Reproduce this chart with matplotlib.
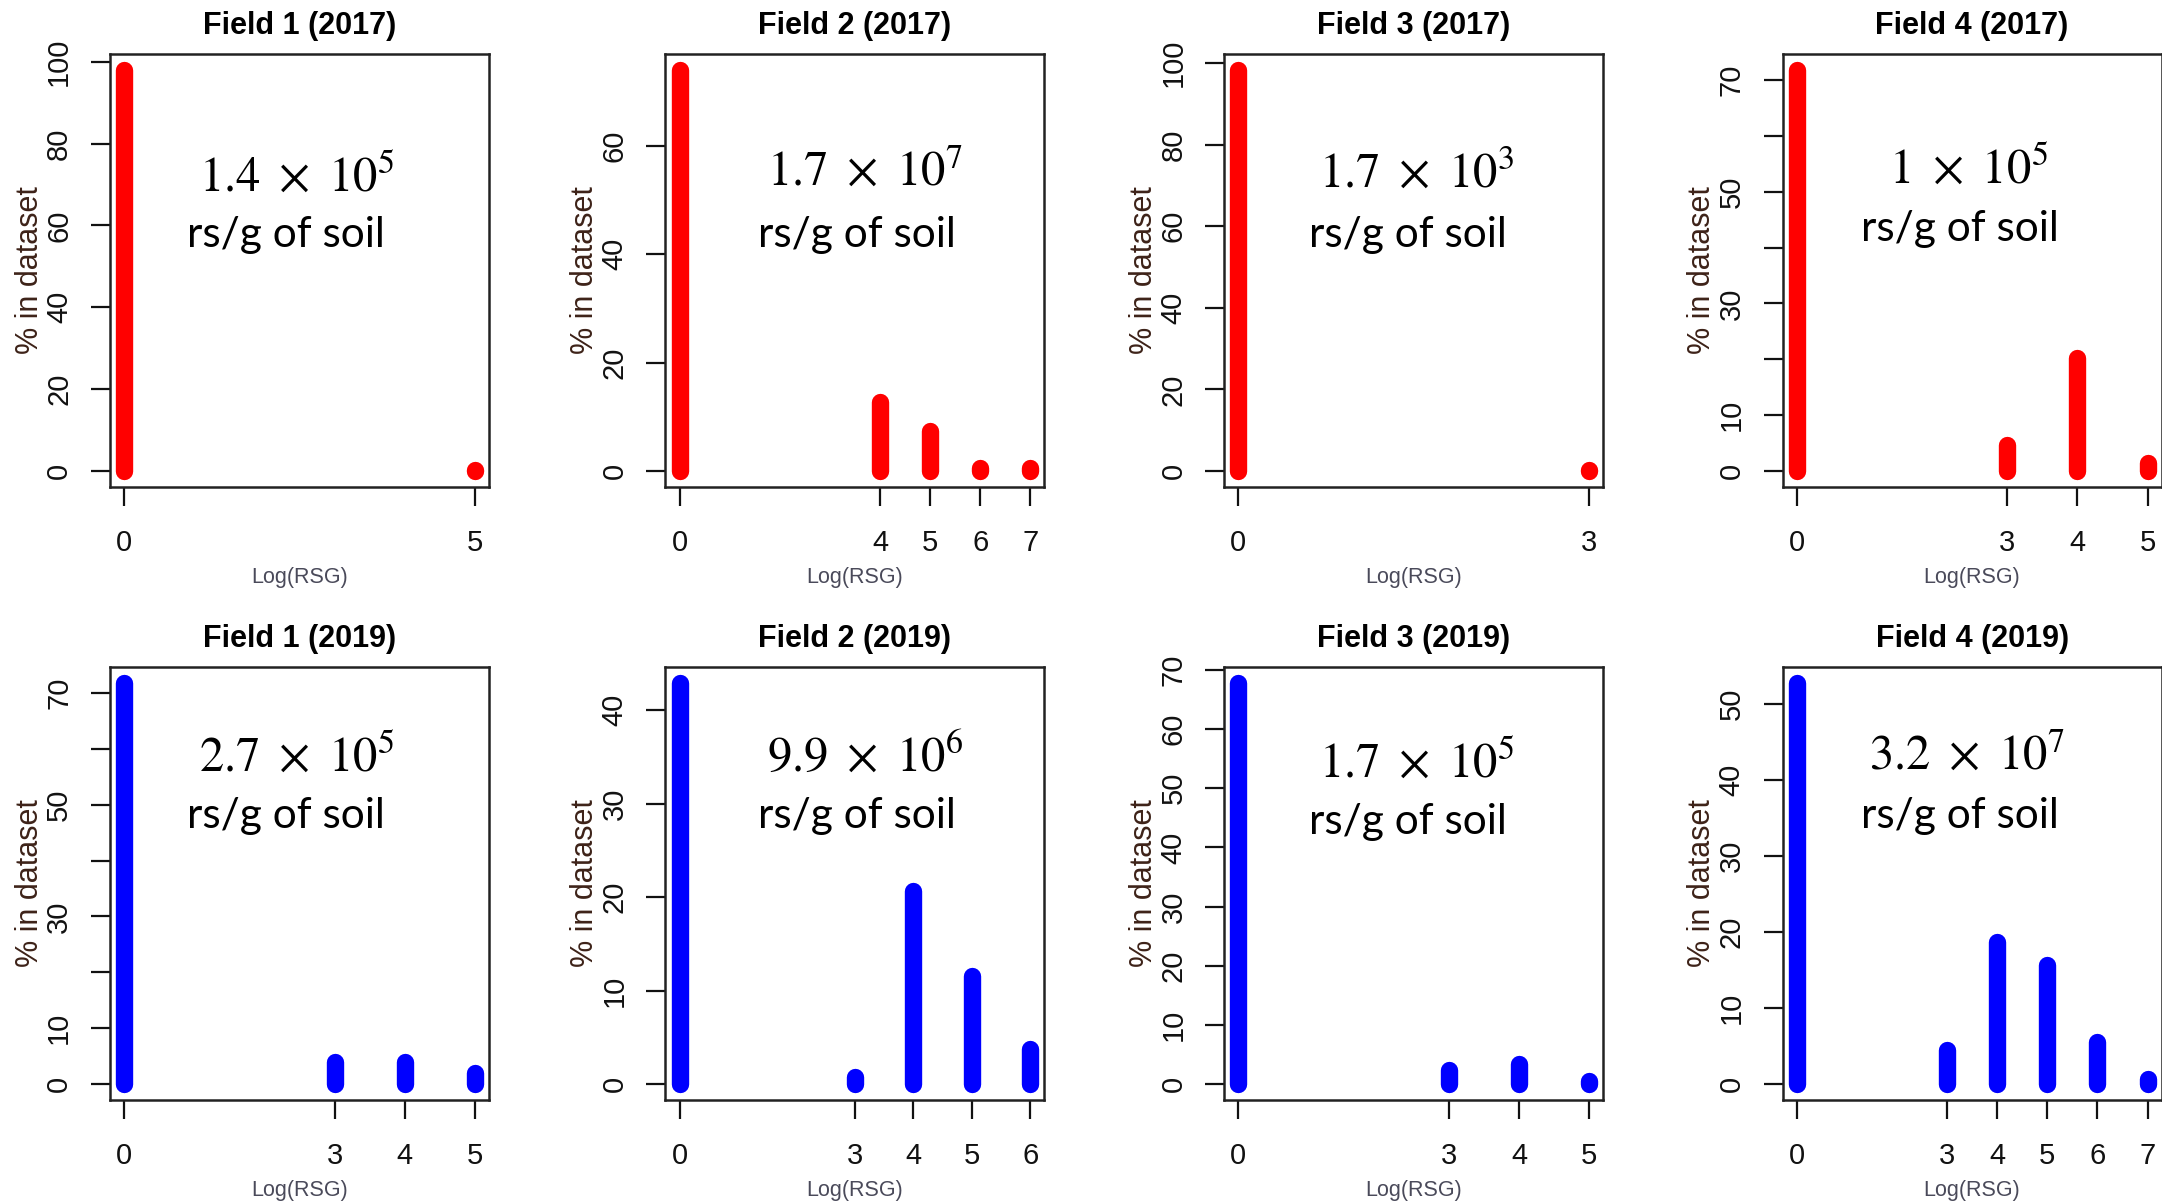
import matplotlib
matplotlib.use("Agg")
import matplotlib.pyplot as plt

# Data (x = Log(RSG), y = % in dataset)
titles_2017 = ["Field 1 (2017)", "Field 2 (2017)", "Field 3 (2017)", "Field 4 (2017)"]
titles_2019 = ["Field 1 (2019)", "Field 2 (2019)", "Field 3 (2019)", "Field 4 (2019)"]

log_rsg_2017 = [[0, 5], [0, 4, 5, 6, 7], [0, 3], [0, 3, 4, 5]]
pct_2017 = [[98.0, 0.3], [74.0, 12.7, 7.4, 0.5, 0.6], [98.3, 0.3], [71.8, 4.6, 20.3, 1.5]]

log_rsg_2019 = [[0, 3, 4, 5], [0, 3, 4, 5, 6], [0, 3, 4, 5], [0, 3, 4, 5, 6, 7]]
pct_2019 = [[71.8, 4.0, 4.0, 1.9], [42.9, 0.7, 20.6, 11.5, 3.7],
            [67.8, 2.3, 3.3, 0.5], [52.8, 4.5, 18.7, 15.7, 5.5, 0.6]]

yticks_2017 = [[0, 20, 40, 60, 80, 100], [0, 20, 40, 60], [0, 20, 40, 60, 80, 100],
               [0, 10, 20, 30, 40, 50, 60, 70]]
ylabels_2017 = [["0", "20", "40", "60", "80", "100"], ["0", "20", "40", "60"],
                ["0", "20", "40", "60", "80", "100"],
                ["0", "10", "", "30", "", "50", "", "70"]]
yticks_2019 = [[0, 10, 20, 30, 40, 50, 60, 70], [0, 10, 20, 30, 40],
               [0, 10, 20, 30, 40, 50, 60, 70], [0, 10, 20, 30, 40, 50]]
ylabels_2019 = [["0", "10", "", "30", "", "50", "", "70"], ["0", "10", "20", "30", "40"],
                ["0", "10", "20", "30", "40", "50", "60", "70"],
                ["0", "10", "20", "30", "40", "50"]]

density_2017 = [r"$1.4\ \times\ 10^{5}$", r"$1.7\ \times\ 10^{7}$",
                r"$1.7\ \times\ 10^{3}$", r"$1\ \times\ 10^{5}$"]
density_2019 = [r"$2.7\ \times\ 10^{5}$", r"$9.9\ \times\ 10^{6}$",
                r"$1.7\ \times\ 10^{5}$", r"$3.2\ \times\ 10^{7}$"]

# annotation positions (axes fraction)
num_pos = [[(0.492, 0.715), (0.527, 0.724), (0.508, 0.724), (0.491, 0.733)],
           [(0.492, 0.792), (0.527, 0.792), (0.508, 0.778), (0.487, 0.792)]]
unit_pos = [[(0.465, 0.582), (0.505, 0.582), (0.485, 0.582), (0.469, 0.595)],
            [(0.465, 0.655), (0.505, 0.655), (0.485, 0.642), (0.469, 0.655)]]

plt.rcParams['font.family'] = ['Liberation Sans', 'DejaVu Sans']

fig = plt.figure(figsize=(21.62, 12.03), dpi=100)
lefts = [0.0509, 0.3078, 0.5663, 0.8245]
bottoms = [0.5952, 0.0856]
w, h = 0.1753, 0.36

rows = [
    (titles_2017, log_rsg_2017, pct_2017, yticks_2017, ylabels_2017, density_2017, "#ff0000"),
    (titles_2019, log_rsg_2019, pct_2019, yticks_2019, ylabels_2019, density_2019, "#0000ff"),
]

for r, (titles, xs_all, ys_all, yt_all, yl_all, dens, col) in enumerate(rows):
    for c in range(4):
        ax = fig.add_axes([lefts[c], bottoms[r], w, h])
        xs = xs_all[c]
        ys = ys_all[c]
        for x, y in zip(xs, ys):
            ax.plot([x, x], [0, y], color=col, lw=12.5, solid_capstyle='round', clip_on=False)
        xmax = max(xs)
        ymax = max(ys)
        ax.set_xlim(-0.04 * xmax, 1.04 * xmax)
        ax.set_ylim(-0.04 * ymax, 1.04 * ymax)

        ax.set_xticks(xs)
        ax.set_xticklabels([str(x) for x in xs])
        ax.set_yticks(yt_all[c])
        ax.set_yticklabels(yl_all[c], rotation=90, va='center')
        ax.tick_params(axis='both', length=13.5, width=1.6, labelsize=21,
                       colors='#111111', direction='out')
        ax.tick_params(axis='x', pad=17)
        ax.tick_params(axis='y', pad=13)
        for s in ax.spines.values():
            s.set_linewidth(1.8)
            s.set_color('#222222')

        ax.set_title(titles[c], fontsize=22, fontweight='bold', y=1.064, va='center', pad=0)
        ax.text(-0.212, 0.5, "% in dataset", transform=ax.transAxes, rotation=90,
                ha='center', va='center', fontsize=22, color='#3d2218')
        ax.text(0.5, -0.208, "Log(RSG)", transform=ax.transAxes, ha='center', va='center',
                fontsize=15.5, color='#4a4a5a')

        nx, ny = num_pos[r][c]
        ax.text(nx, ny, dens[c], transform=ax.transAxes, ha='center', va='center',
                fontsize=35, math_fontfamily='stix', color='black')
        ux, uy = unit_pos[r][c]
        ax.text(ux, uy, "rs/g of soil", transform=ax.transAxes, ha='center', va='center',
                fontsize=30.5, family=['Lato', 'DejaVu Sans'], color='black')

fig.savefig("out.png", dpi=100)
